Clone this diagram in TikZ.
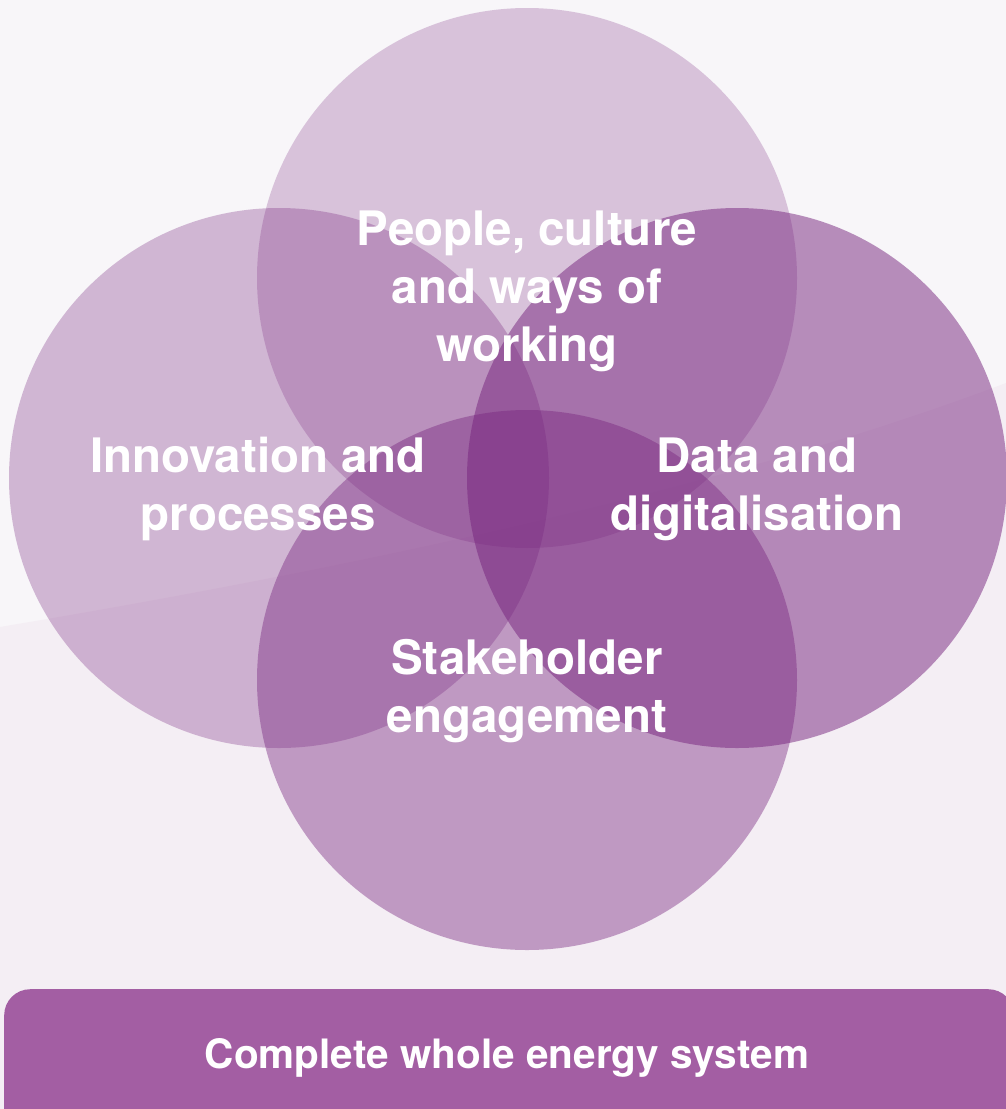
\documentclass[tikz,border=0pt]{standalone}
\usepackage{fontspec}
\setmainfont{TeX Gyre Heros}
\definecolor{bgtop}{RGB}{248,246,249}
\definecolor{bglow}{RGB}{244,238,244}
\definecolor{basepurple}{RGB}{118,35,125}
\definecolor{barpurple}{RGB}{163,94,163}
\tikzset{
  petal/.style={circle, minimum size=540pt, inner sep=0pt, fill=basepurple, draw=none},
  lbl/.style={text=white, font=\fontsize{47.5}{58}\selectfont\bfseries, align=center, inner sep=0pt},
}
\begin{document}
\begin{tikzpicture}[x=1pt,y=-1pt]
\useasboundingbox (0,0) rectangle (1006,1109);
\fill[bgtop] (0,0) rectangle (1006,1109);
\fill[bglow] (0,627) .. controls (400,560) and (750,480) .. (1006,383) -- (1006,1109) -- (0,1109) -- cycle;
\node[petal, fill opacity=0.245] (ctop) at (527,278) {};
\node[petal, fill opacity=0.30] (cleft) at (279,478) {};
\node[petal, fill opacity=0.415] (cbottom) at (527,680) {};
\node[petal, fill opacity=0.50] (cright) at (737,478) {};
\node[lbl] (ttop) at (527,291) {People, culture\\and ways of\\working};
\node[lbl] (tleft) at (258,489) {Innovation and\\processes};
\node[lbl] (tright) at (757,489) {Data and\\digitalisation};
\node[lbl] (tbottom) at (527,691) {Stakeholder\\engagement};
\node[fill=barpurple, rounded corners=26pt, minimum width=1010pt, minimum height=150pt, inner sep=0pt, anchor=north west] (bar) at (4,989) {};
\node[text=white, font=\fontsize{40.5}{48}\selectfont\bfseries, inner sep=0pt] (bartext) at (507,1058) {Complete whole energy system};
\end{tikzpicture}
\end{document}
